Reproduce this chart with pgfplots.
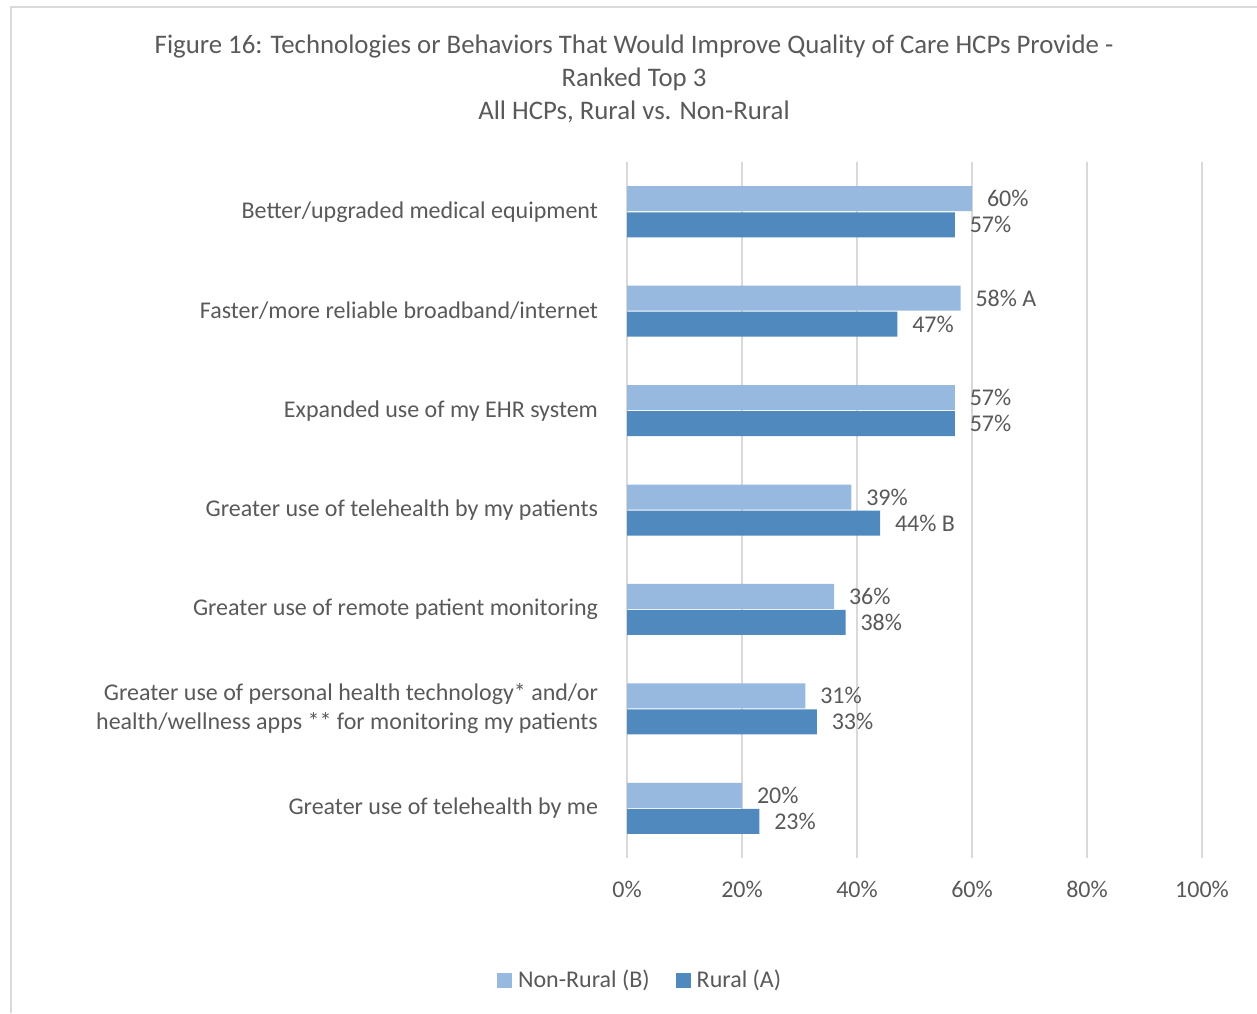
\documentclass[border=0pt]{standalone}
\usepackage{pgfplots}
\pgfplotsset{compat=1.18}
\usepackage{fontspec}
\setmainfont{Carlito}
\definecolor{txt}{RGB}{89,89,89}
\definecolor{gridc}{RGB}{217,217,217}
\definecolor{nonrural}{RGB}{151,185,224}
\definecolor{rural}{RGB}{79,137,189}
\begin{document}
\begin{tikzpicture}
\begin{scope}[x=0.5pt,y=-0.5pt]
\useasboundingbox (0,0) rectangle (1257,1013);
\draw[gridc,line width=1pt] (11,1013) -- (11,7) -- (1257,7);
\node[txt,font=\fontsize{13.4}{16.5}\selectfont,align=center] at (634,79)
 {Figure 16: Technologies or Behaviors That Would Improve Quality of Care HCPs Provide -\\Ranked Top 3\\All HCPs, Rural vs. Non-Rural};
\end{scope}
\begin{axis}[
  at={(313.5pt,-429pt)}, anchor=south west,
  scale only axis, width=287.5pt, height=348pt,
  xmin=0, xmax=100, ymin=-0.5, ymax=6.5,
  y dir=reverse,
  xbar, bar width=0.2515, bar shift=0pt,
  axis line style={draw=none},
  major tick length=0pt,
  xtick={0,20,40,60,80,100},
  xticklabels={0\%,20\%,40\%,60\%,80\%,100\%},
  xmajorgrids, major grid style={gridc,line width=1pt},
  ytick={0,1,2,3,4,5,6},
  yticklabels={Better/upgraded medical equipment,
    Faster/more reliable broadband/internet,
    Expanded use of my EHR system,
    Greater use of telehealth by my patients,
    Greater use of remote patient monitoring,
    {Greater use of personal health technology* and/or\\health/wellness apps ** for monitoring my patients},
    Greater use of telehealth by me},
  yticklabel style={align=right, font=\fontsize{12}{14.5}\selectfont, text=txt, xshift=-11pt},
  xticklabel style={font=\fontsize{12}{14}\selectfont, text=txt, yshift=-8pt},
  point meta=explicit symbolic,
  nodes near coords,
  nodes near coords style={anchor=west, xshift=4pt, font=\fontsize{12}{14}\selectfont, text=txt},
  legend style={at={(0.0245,-0.1755)}, anchor=center, draw=none, legend columns=2,
    font=\fontsize{12}{14}\selectfont, text=txt,
    /tikz/every even column/.append style={column sep=11pt}},
  legend image code/.code={\fill[#1] (0pt,-3.75pt) rectangle (7.5pt,3.75pt);\path (0pt,0pt) -- (8.5pt,0pt);},
]
\addplot[fill=nonrural, draw=none] coordinates {
 (60,-0.131) [60\%]
 (58,0.869) [58\% A]
 (57,1.869) [57\%]
 (39,2.869) [39\%]
 (36,3.869) [36\%]
 (31,4.869) [31\%]
 (20,5.869) [20\%]
};
\addplot[fill=rural, draw=none] coordinates {
 (57,0.131) [57\%]
 (47,1.131) [47\%]
 (57,2.131) [57\%]
 (44,3.131) [44\% B]
 (38,4.131) [38\%]
 (33,5.131) [33\%]
 (23,6.131) [23\%]
};
\legend{Non-Rural (B), Rural (A)}
\end{axis}
\end{tikzpicture}
\end{document}
